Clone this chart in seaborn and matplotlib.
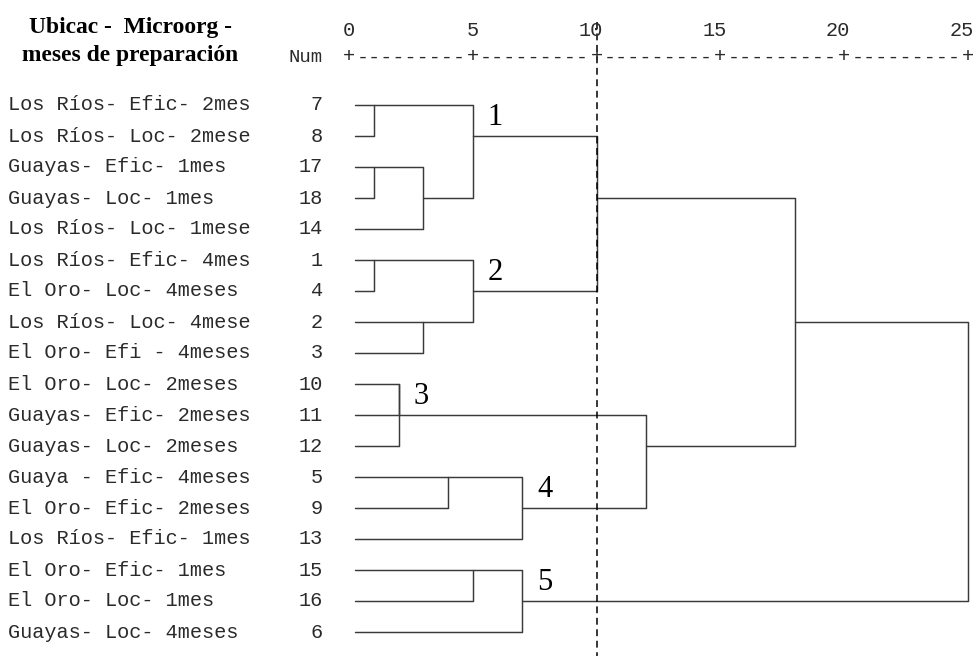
import numpy as np
import pandas as pd
import matplotlib
matplotlib.use("Agg")
import matplotlib.pyplot as plt
import seaborn as sns

# ---------------- data ----------------
leaf_labels = ["Los Ríos- Efic- 2mes", "Los Ríos- Loc- 2mese", "Guayas- Efic- 1mes",
               "Guayas- Loc- 1mes", "Los Ríos- Loc- 1mese", "Los Ríos- Efic- 4mes",
               "El Oro- Loc- 4meses", "Los Ríos- Loc- 4mese", "El Oro- Efi - 4meses",
               "El Oro- Loc- 2meses", "Guayas- Efic- 2meses", "Guayas- Loc- 2meses",
               "Guaya - Efic- 4meses", "El Oro- Efic- 2meses", "Los Ríos- Efic- 1mes",
               "El Oro- Efic- 1mes", "El Oro- Loc- 1mes", "Guayas- Loc- 4meses"]
leaf_nums = [7, 8, 17, 18, 14, 1, 4, 2, 3, 10, 11, 12, 5, 9, 13, 15, 16, 6]

# merges: leaves referenced by case number (1..18), new clusters numbered 19, 20, ...
merge_a = [7, 17, 20, 19, 1, 2, 23, 22, 10, 27, 5, 29, 28, 15, 32, 26, 34]
merge_b = [8, 18, 14, 21, 4, 3, 24, 25, 11, 12, 9, 13, 30, 16, 6, 31, 33]
merge_dist = [1, 1, 3, 5, 1, 3, 5, 10, 2, 2, 4, 7, 12, 5, 7, 18, 25]

scale_ticks = [0, 5, 10, 15, 20, 25]
cut_level = 10
cluster_labels = ["1", "2", "3", "4", "5"]
cluster_nodes = [22, 25, 28, 30, 33]

title_lines = ["Ubicac -  Microorg -", "meses de preparación"]
num_header = "Num"

# ---------------- layout / style ----------------
W, H, DPI = 9.76, 6.61, 100
PX_X0, PX_PER_UNIT = 349.0, (968.0 - 349.0) / 25.0
PX_Y0, PX_PER_ROW = 105.0, 31.0
LEAF_START = 0.25
LINE_COLOR = "#3a3a3a"
TEXT_COLOR = "#2a2a2a"
MONO = "Liberation Mono"
SERIF = "Liberation Serif"
MONO_SIZE = 14.6

sns.set_theme(style="white")
plt.rcParams["font.family"] = ["DejaVu Sans"]

fig = plt.figure(figsize=(W, H), dpi=DPI)
ax = fig.add_axes([0, 0, 1, 1])

def px_to_x(px):
    return (px - PX_X0) / PX_PER_UNIT

def py_to_row(py):
    return (py - PX_Y0) / PX_PER_ROW

# node positions
row_of = {}
height_of = {}
for i, n in enumerate(leaf_nums):
    row_of[n] = i
    height_of[n] = LEAF_START
next_id = len(leaf_nums) + 1
records = []
for k, (a, b, d) in enumerate(zip(merge_a, merge_b, merge_dist)):
    ra, rb = row_of[a], row_of[b]
    for j, (xx, yy) in enumerate([(height_of[a], ra), (d, ra), (d, rb), (height_of[b], rb)]):
        records.append({"seg": k, "order": j, "x": xx, "y": yy})
    nid = next_id + k
    row_of[nid] = int(np.floor((ra + rb) / 2))
    height_of[nid] = d

seg_df = pd.DataFrame(records)
sns.lineplot(data=seg_df, x="x", y="y", units="seg", estimator=None, sort=False,
             color=LINE_COLOR, linewidth=1.05, ax=ax, legend=False)

ax.set_xlim(px_to_x(0), px_to_x(976))
ax.set_ylim(py_to_row(661), py_to_row(0))
ax.set_axis_off()

# cut line
ax.plot([cut_level, cut_level], [py_to_row(22), py_to_row(656)], color="black",
        linewidth=1.1, linestyle=(0, (4.5, 3.0)))

# leaf labels and numbers
num_x = px_to_x(323)
for i, (lab, n) in enumerate(zip(leaf_labels, leaf_nums)):
    ax.text(px_to_x(8), i, lab, ha="left", va="center", family=MONO,
            fontsize=MONO_SIZE, color=TEXT_COLOR)
    ax.text(num_x, i, str(n), ha="right", va="center", family=MONO,
            fontsize=MONO_SIZE, color=TEXT_COLOR)

# scale header
char_w = 0.6 * MONO_SIZE * DPI / 72 / PX_PER_UNIT
ruler_row = py_to_row(57)
tick_row = py_to_row(30)
for t in scale_ticks:
    s = str(t)
    xc = t - (len(s) - 1) * char_w / 2
    ax.text(xc, tick_row, s, ha="center", va="center", family=MONO,
            fontsize=MONO_SIZE, color=TEXT_COLOR)
    ax.text(t, ruler_row, "+", ha="center", va="center", family=MONO,
            fontsize=MONO_SIZE, color=TEXT_COLOR)
for t0, t1 in zip(scale_ticks[:-1], scale_ticks[1:]):
    ax.text((t0 + t1) / 2, ruler_row, "-" * 9, ha="center", va="center",
            family=MONO, fontsize=MONO_SIZE, color=TEXT_COLOR)
ax.text(num_x, ruler_row, num_header, ha="right", va="center", family=MONO,
        fontsize=MONO_SIZE - 1, color=TEXT_COLOR)

# title
ax.text(px_to_x(130), py_to_row(28), title_lines[0], ha="center", va="center",
        family=SERIF, fontweight="bold", fontsize=16.9, color="black")
ax.text(px_to_x(130), py_to_row(55), title_lines[1], ha="center", va="center",
        family=SERIF, fontweight="bold", fontsize=16.9, color="black")

# cluster numbers
for lab, node in zip(cluster_labels, cluster_nodes):
    ax.text(height_of[node] + 0.9, row_of[node] - 0.6, lab, ha="center", va="center",
            family=SERIF, fontsize=22, color="black")

fig.savefig("out.png", dpi=DPI)
